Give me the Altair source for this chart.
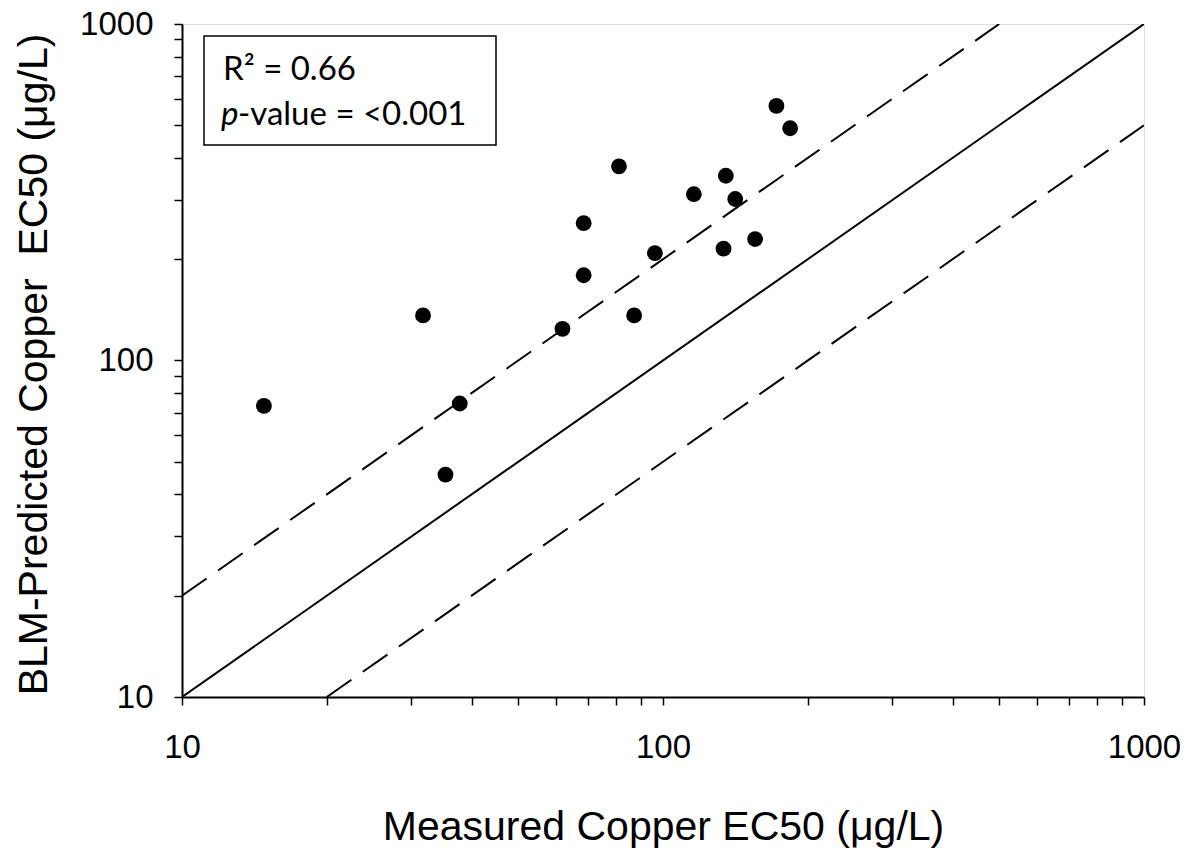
import altair as alt
import pandas as pd

# Data (log-log scatter)
measured = [14.8, 31.7, 35.3, 37.8, 61.8, 68.4, 68.4, 81.0, 87.1, 96.2,
            115.9, 135.1, 141.3, 133.6, 155.4, 172.1, 183.8]
predicted = [73.3, 136.1, 45.8, 74.5, 124.2, 256, 179.2, 377.7, 136.1, 208.6,
             312, 354, 302, 215, 229.6, 571, 490]

# reference lines: 1:1 and factor-of-two
one_x = [10, 1000]
one_y = [10, 1000]
up_x = [10, 500]
up_y = [20, 1000]
lo_x = [20, 1000]
lo_y = [10, 500]

tick_vals = [10, 20, 30, 40, 50, 60, 70, 80, 90,
             100, 200, 300, 400, 500, 600, 700, 800, 900, 1000]

r2_text = "R\u00b2 = 0.66"
p_italic = "p"
p_rest = "-value = <0.001"

W, H = 962, 673

pts = pd.DataFrame({"x": measured, "y": predicted})
solid = pd.DataFrame({"x": one_x, "y": one_y})
dashed = pd.DataFrame({
    "x": up_x + lo_x,
    "y": up_y + lo_y,
    "line": ["up", "up", "lo", "lo"],
})

lab_expr = "(datum.value == 10 || datum.value == 100 || datum.value == 1000) ? format(datum.value, 'd') : ''"

xscale = alt.Scale(type="log", domain=[10, 1000], nice=False)
yscale = alt.Scale(type="log", domain=[10, 1000], nice=False)

xaxis = alt.Axis(
    values=tick_vals, labelExpr=lab_expr, grid=False,
    tickSize=8, tickColor="black", tickWidth=1.5,
    domainColor="black", domainWidth=2,
    labelFont="Liberation Sans", labelFontSize=33, labelColor="black",
    labelPadding=52, labelBaseline="alphabetic", labelFlush=False,
    labelOverlap=False, labelBound=False,
    titleFont="Liberation Sans", titleFontSize=41, titleFontWeight="normal",
    titleColor="black", titleY=142, titleX=W / 2, titleBaseline="alphabetic",
    titleAlign="center",
)
yaxis = alt.Axis(
    values=tick_vals, labelExpr=lab_expr, grid=False,
    tickSize=8, tickColor="black", tickWidth=1.5,
    domainColor="black", domainWidth=2,
    labelFont="Liberation Sans", labelFontSize=33, labelColor="black",
    labelPadding=21, labelBaseline="middle", labelFlush=False,
    labelOverlap=False, labelBound=False,
    titleFont="Liberation Sans", titleFontSize=41, titleFontWeight="normal",
    titleColor="black", titleX=-136, titleY=340, titleAngle=270,
    titleBaseline="alphabetic", titleAlign="center",
)

xt = "Measured Copper EC50 (\u03bcg/L)"
yt = "BLM-Predicted Copper\u00a0 EC50 (\u03bcg/L)"

def xe():
    return alt.X("x:Q", scale=xscale, axis=xaxis, title=xt)

def ye():
    return alt.Y("y:Q", scale=yscale, axis=yaxis, title=yt)

solid_layer = alt.Chart(solid).mark_line(color="black", strokeWidth=2, clip=True).encode(
    x=xe(), y=ye())
dashed_layer = alt.Chart(dashed).mark_line(
    color="black", strokeWidth=2, strokeDash=[30, 14], clip=True
).encode(x=xe(), y=ye(), detail="line:N")
point_layer = alt.Chart(pts).mark_circle(size=250, color="black", opacity=1).encode(
    x=xe(), y=ye())

box = alt.Chart(pd.DataFrame({"a": [0]})).mark_rect(
    fill="white", stroke="black", strokeWidth=1.5
).encode(x=alt.value(22), x2=alt.value(314), y=alt.value(12), y2=alt.value(121))

txt_df = pd.DataFrame({"a": [0]})
t1 = alt.Chart(txt_df).mark_text(
    text=r2_text, font="Lato", fontSize=33, align="left", baseline="alphabetic", color="black"
).encode(x=alt.value(41), y=alt.value(56))
t2 = alt.Chart(txt_df).mark_text(
    text=p_italic, font="Lato", fontSize=33, fontStyle="italic", align="left",
    baseline="alphabetic", color="black"
).encode(x=alt.value(39), y=alt.value(101))
t3 = alt.Chart(txt_df).mark_text(
    text=p_rest, font="Lato", fontSize=33, align="left", baseline="alphabetic", color="black"
).encode(x=alt.value(56), y=alt.value(101))

chart = alt.layer(
    solid_layer, dashed_layer, point_layer, box, t1, t2, t3
).properties(
    width=W, height=H,
    padding={"left": 174, "top": 16, "right": 38, "bottom": 151},
    autosize=alt.AutoSizeParams(type="none"),
).configure_view(
    fill="#dfdfdf", stroke="black", strokeWidth=2
).configure(background="white")

chart.save("out.html", embed_options={"renderer": "svg", "actions": False})
